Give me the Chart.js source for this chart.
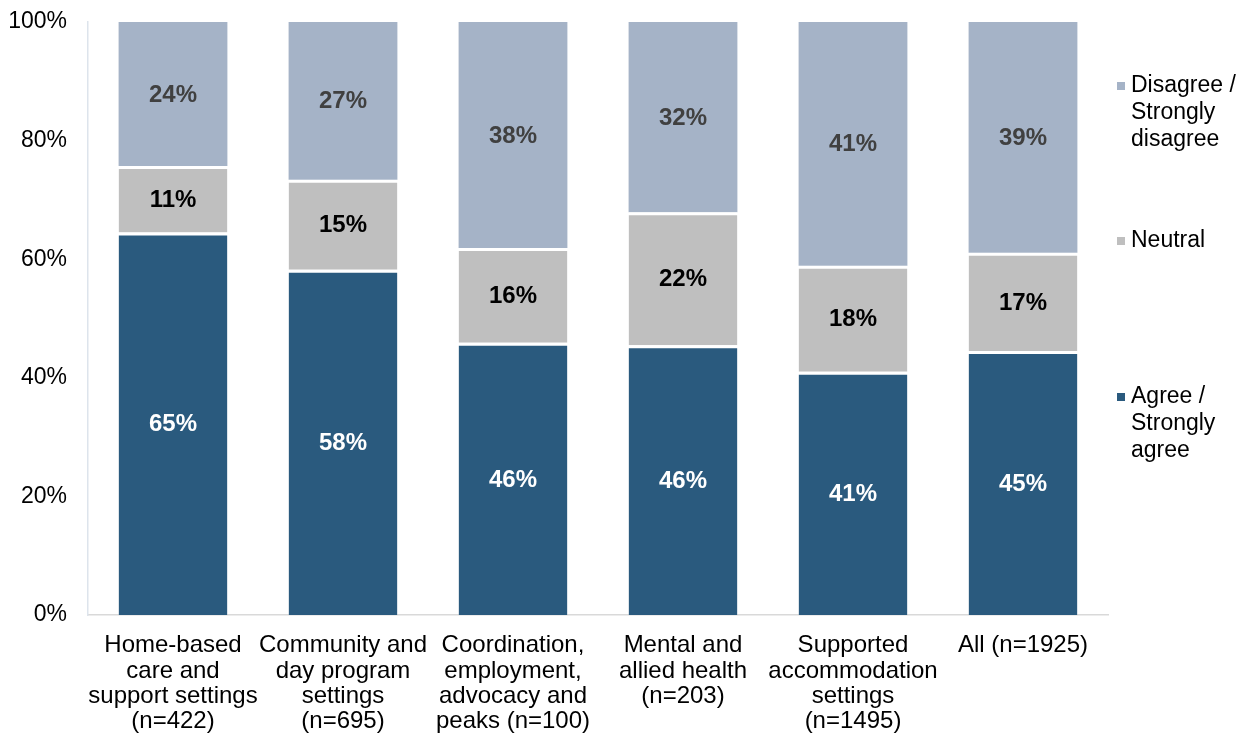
<!DOCTYPE html>
<html>
<head>
<meta charset="utf-8">
<script src="https://cdn.jsdelivr.net/npm/chart.js@4.4.1/dist/chart.umd.min.js"></script>
<style>
  body { margin: 0; background: #fff; }
  #wrap { width: 1248px; height: 738px; }
</style>
</head>
<body>
<div id="wrap"><canvas id="chart"></canvas></div>
<script>
// categories (multi-line labels)
var categories = [
	['Home-based', 'care and', 'support settings', '(n=422)'],
	['Community and', 'day program', 'settings', '(n=695)'],
	['Coordination,', 'employment,', 'advocacy and', 'peaks (n=100)'],
	['Mental and', 'allied health', '(n=203)'],
	['Supported', 'accommodation', 'settings', '(n=1495)'],
	['All (n=1925)']
];

// shares in %
var agree    = [64.5, 58.2, 45.9, 45.5, 41.0, 44.5];
var neutral  = [11.2, 15.2, 16.0, 22.4, 17.9, 16.6];
var disagree = [24.3, 26.6, 38.1, 32.1, 41.1, 38.9];

var yTicks = [0, 20, 40, 60, 80, 100];

var legendItems = [
	{ lines: ['Disagree /', 'Strongly', 'disagree'], color: '#A5B3C7', top: 64 },
	{ lines: ['Neutral'], color: '#BFBFBF', top: 219 },
	{ lines: ['Agree /', 'Strongly', 'agree'], color: '#2A5A7E', top: 375 }
];

var labelColors = ['#ffffff', '#000000', '#404040'];

var FONT = '"Liberation Sans", Arial, sans-serif';

var barLabels = {
	id: 'barLabels',
	afterDatasetsDraw: function(chart) {
		var ctx = chart.ctx;
		ctx.save();
		ctx.font = 'bold 24px ' + FONT;
		ctx.textAlign = 'center';
		ctx.textBaseline = 'middle';
		chart.data.datasets.forEach(function(ds, i) {
			var meta = chart.getDatasetMeta(i);
			meta.data.forEach(function(el, k) {
				ctx.fillStyle = labelColors[i];
				ctx.fillText(Math.round(ds.data[k]) + '%', el.x, (el.y + el.base) / 2 + 1);
			});
		});
		ctx.restore();
	}
};

var sideLegend = {
	id: 'sideLegend',
	afterDraw: function(chart) {
		var ctx = chart.ctx;
		var area = chart.chartArea;
		ctx.save();
		ctx.font = '23px ' + FONT;
		ctx.textBaseline = 'middle';
		ctx.textAlign = 'left';
		legendItems.forEach(function(item) {
			var y0 = area.top + item.top;
			ctx.fillStyle = item.color;
			ctx.fillRect(area.right + 9, y0 - 4, 8, 8);
			ctx.fillStyle = '#000';
			for (var m = 0; m < item.lines.length; m++) {
				ctx.fillText(item.lines[m], area.right + 23, y0 + m * 27);
			}
		});
		ctx.restore();
	}
};

var ctx1 = document.getElementById('chart').getContext('2d');

var chart = new Chart(ctx1, {
	type: 'bar',
	data: {
		labels: categories,
		datasets: [
			{
				label: 'Agree / Strongly agree',
				data: agree,
				backgroundColor: '#2A5A7E',
				borderColor: '#ffffff',
				borderWidth: { top: 3, left: 0, right: 0, bottom: 0 },
				borderSkipped: false
			},
			{
				label: 'Neutral',
				data: neutral,
				backgroundColor: '#BFBFBF',
				borderColor: '#ffffff',
				borderWidth: { top: 3, left: 0, right: 0, bottom: 0 },
				borderSkipped: false
			},
			{
				label: 'Disagree / Strongly disagree',
				data: disagree,
				backgroundColor: '#A5B3C7',
				borderWidth: 0
			}
		]
	},
	options: {
		responsive: true,
		maintainAspectRatio: false,
		animation: false,
		layout: { padding: { left: 0, right: 140, top: 22, bottom: 0 } },
		datasets: { bar: { categoryPercentage: 1, barPercentage: 0.64 } },
		plugins: {
			legend: { display: false },
			tooltip: { enabled: false }
		},
		scales: {
			x: {
				stacked: true,
				grid: { display: false, drawTicks: false },
				border: { display: true, color: '#D9D9D9', width: 1.5 },
				afterFit: function(axis) {
					axis.height = 123;
					axis.paddingLeft = 0;
					axis.paddingRight = 0;
				},
				ticks: {
					color: '#000',
					font: { family: FONT, size: 24, lineHeight: 1.055 },
					padding: 18,
					maxRotation: 0,
					autoSkip: false
				}
			},
			y: {
				stacked: true,
				min: 0,
				max: 100,
				afterBuildTicks: function(axis) {
					axis.ticks = yTicks.map(function(v) { return { value: v }; });
				},
				afterFit: function(axis) {
					axis.width = 88;
					axis.paddingTop = 0;
					axis.paddingBottom = 0;
				},
				grid: { display: false, drawTicks: false },
				border: { display: true, color: '#DDE4EC', width: 1.5 },
				ticks: {
					color: '#000',
					font: { family: FONT, size: 23 },
					padding: 21,
					callback: function(v) { return v + '%'; }
				}
			}
		}
	},
	plugins: [barLabels, sideLegend]
});
</script>
</body>
</html>
